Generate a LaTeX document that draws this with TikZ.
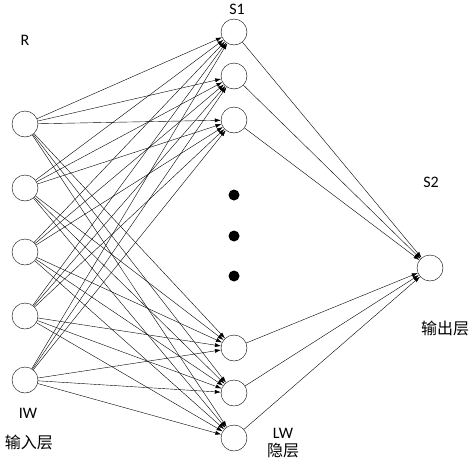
\documentclass[tikz,border=0pt]{standalone}
\usepackage{fontspec}
\setmainfont{Carlito}
\newfontfamily\cjk{Noto Sans CJK SC}
\usetikzlibrary{arrows.meta}
\tikzset{
  neuron/.style={draw, circle, thin, minimum size=26pt, inner sep=0pt},
  link/.style={thin, -{Latex[length=6pt,width=4pt]}},
  lbl/.style={font=\fontsize{16}{18}\selectfont}
}
\begin{document}
\begin{tikzpicture}[x=1pt,y=-1pt]
  \useasboundingbox (0,0) rectangle (474,461);
  % input layer
  \foreach \i/\y in {1/124,2/188,3/252,4/316,5/380}
    \node[neuron] (in\i) at (25,\y) {};
  % hidden layer
  \foreach \j/\y in {1/32,2/76,3/120,4/348,5/393,6/438}
    \node[neuron] (h\j) at (234,\y) {};
  \foreach \y in {195,236,276}
    \fill (234,\y) circle (5.5pt);
  % output layer
  \node[neuron] (out) at (430,268) {};
  \foreach \i in {1,...,5}
    \foreach \j in {1,...,6}
      \draw[link] (in\i) -- (h\j);
  \foreach \j in {1,...,6}
    \draw[link] (h\j) -- (out);
  % labels
  \node[lbl] (r) at (25,40) {R};
  \node[lbl] (s1) at (237,9) {S1};
  \node[lbl] (s2) at (431,182) {S2};
  \node[lbl] (iw) at (28,413) {IW};
  \node[lbl] (lw) at (283,433) {LW};
  \node[lbl] (inl) at (29,442) {\cjk 输入层};
  \node[lbl] (hl) at (283,451) {\cjk 隐层};
  \node[lbl] (outl) at (445,328) {\cjk 输出层};
\end{tikzpicture}
\end{document}
